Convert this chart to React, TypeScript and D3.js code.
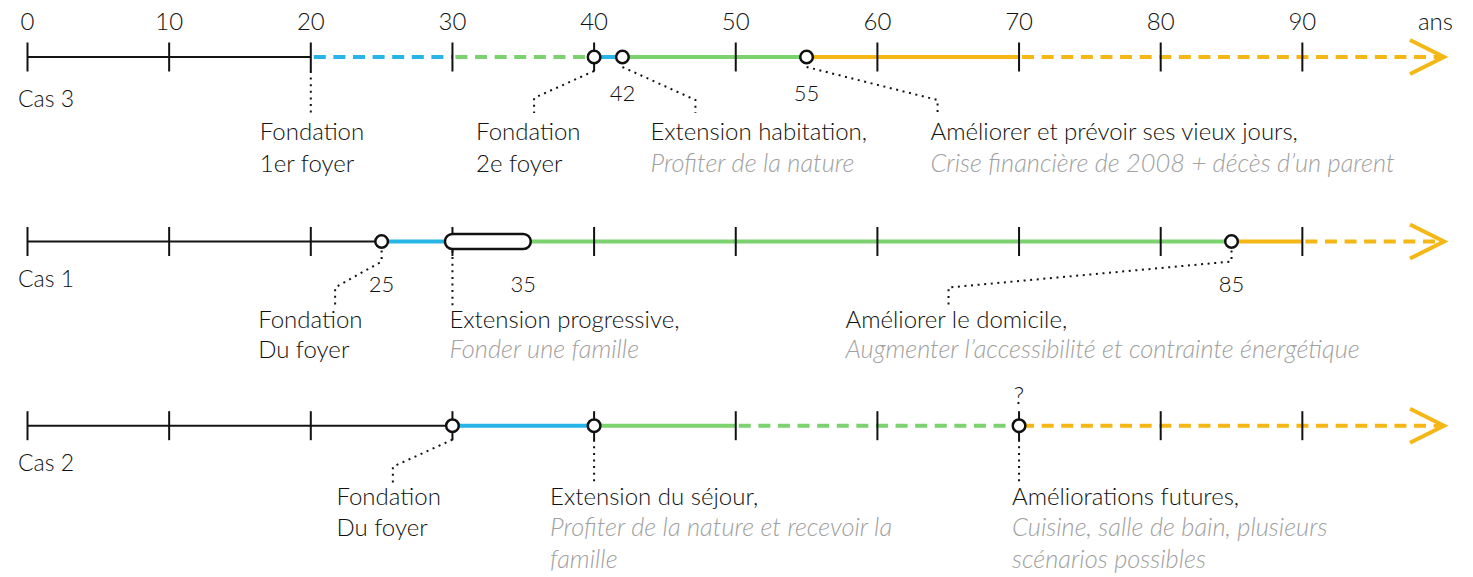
import React from "react";
import * as d3 from "d3";

// ---------- DATA ----------
const TICKS = [0, 10, 20, 30, 40, 50, 60, 70, 80, 90];
const TICK_LABELS = ["0", "10", "20", "30", "40", "50", "60", "70", "80", "90"];
const UNIT_LABEL = "ans";
const AGE_MAX = 100;

const CASE_NAMES = ["Cas 3", "Cas 1", "Cas 2"];

// phase: base | fondation | extension | amelioration
const SEGMENTS_CAS3 = [
  { from: 0, to: 20, phase: "base", dashed: false },
  { from: 20, to: 30, phase: "fondation", dashed: true },
  { from: 30, to: 40, phase: "extension", dashed: true },
  { from: 40, to: 42, phase: "fondation", dashed: false },
  { from: 42, to: 55, phase: "extension", dashed: false },
  { from: 55, to: 70, phase: "amelioration", dashed: false },
  { from: 70, to: 100, phase: "amelioration", dashed: true },
];
const SEGMENTS_CAS1 = [
  { from: 0, to: 25, phase: "base", dashed: false },
  { from: 25, to: 30, phase: "fondation", dashed: false },
  { from: 30, to: 85, phase: "extension", dashed: false },
  { from: 85, to: 90, phase: "amelioration", dashed: false },
  { from: 90, to: 100, phase: "amelioration", dashed: true },
];
const SEGMENTS_CAS2 = [
  { from: 0, to: 30, phase: "base", dashed: false },
  { from: 30, to: 40, phase: "fondation", dashed: false },
  { from: 40, to: 50, phase: "extension", dashed: false },
  { from: 50, to: 70, phase: "extension", dashed: true },
  { from: 70, to: 100, phase: "amelioration", dashed: true },
];

const CIRCLES_CAS3 = [40, 42, 55];
const CIRCLES_CAS1 = [25, 85];
const CIRCLES_CAS2 = [30, 40, 70];

const CAPSULES_CAS1 = [{ from: 30, to: 35 }];

const AGE_LABELS_CAS3 = [{ age: 42, text: "42" }, { age: 55, text: "55" }];
const AGE_LABELS_CAS1 = [
  { age: 25, text: "25" },
  { age: 35, text: "35" },
  { age: 85, text: "85" },
];
const QUESTION_CAS2 = [{ age: 70, text: "?" }];

const EVENTS_CAS3 = [
  { id: "c3a", age: 20, title: ["Fondation", "1er foyer"], note: [] },
  { id: "c3b", age: 40, title: ["Fondation", "2e foyer"], note: [] },
  { id: "c3c", age: 42, title: ["Extension habitation,"], note: ["Profiter de la nature"] },
  {
    id: "c3d",
    age: 55,
    title: ["Améliorer et prévoir ses vieux jours,"],
    note: ["Crise financière de 2008 + décès d’un parent"],
  },
];
const EVENTS_CAS1 = [
  { id: "c1a", age: 25, title: ["Fondation", "Du foyer"], note: [] },
  { id: "c1b", age: 30, title: ["Extension progressive,"], note: ["Fonder une famille"] },
  {
    id: "c1c",
    age: 85,
    title: ["Améliorer le domicile,"],
    note: ["Augmenter l’accessibilité et contrainte énergétique"],
  },
];
const EVENTS_CAS2 = [
  { id: "c2a", age: 30, title: ["Fondation", "Du foyer"], note: [] },
  {
    id: "c2b",
    age: 40,
    title: ["Extension du séjour,"],
    note: ["Profiter de la nature et recevoir la", "famille"],
  },
  {
    id: "c2c",
    age: 70,
    title: ["Améliorations futures,"],
    note: ["Cuisine, salle de bain, plusieurs", "scénarios possibles"],
  },
];

// ---------- LAYOUT / STYLE ----------
const W = 1473;
const H = 577;
const FONT = "Lato, 'Open Sans', sans-serif";
const COLORS: Record<string, string> = {
  base: "#141414",
  fondation: "#27b4e6",
  extension: "#7bd26f",
  amelioration: "#f4b715",
};
const GRAY = "#a0a0a0";
const INK = "#111111";
const TITLE_SIZE = 24;
const NOTE_SIZE = 25.4;

const ROWS = [
  { axisY: 57, caseDy: 50, ageDy: 44, textDy: 83, lineH: 31.5 },
  { axisY: 241.5, caseDy: 45.5, ageDy: 50.5, textDy: 86.5, lineH: 30 },
  { axisY: 425.7, caseDy: 45, ageDy: 0, textDy: 79, lineH: 31.5 },
];

// leader points relative to event (dx, dy from axis), label dx
const LEADERS: Record<string, { pts: [number, number][]; labelDx: number }> = {
  c3a: { pts: [[0, 14], [0, 60]], labelDx: -51 },
  c3b: { pts: [[0, 14], [-60, 41], [-60, 56]], labelDx: -118 },
  c3c: { pts: [[0, 10], [73, 43], [73, 56]], labelDx: 28 },
  c3d: { pts: [[0, 10], [131, 43], [131, 56]], labelDx: 124 },
  c1a: { pts: [[0, 9], [0, 20], [-46.5, 46], [-46.5, 64]], labelDx: -123.5 },
  c1b: { pts: [[0, 9], [0, 64]], labelDx: -3 },
  c1c: { pts: [[0, 9], [0, 20], [-283, 46], [-283, 64]], labelDx: -386 },
  c2a: { pts: [[0, 14], [-59.6, 41], [-59.6, 58]], labelDx: -116 },
  c2b: { pts: [[0, 14], [0, 58]], labelDx: -44 },
  c2c: { pts: [[0, 14], [0, 58]], labelDx: -7 },
};

const x = d3.scaleLinear().domain([0, AGE_MAX]).range([27.5, 1444]);

const CASES = [
  {
    name: CASE_NAMES[0],
    segments: SEGMENTS_CAS3,
    circles: CIRCLES_CAS3,
    capsules: [] as { from: number; to: number }[],
    ageLabels: AGE_LABELS_CAS3,
    above: [] as { age: number; text: string }[],
    events: EVENTS_CAS3,
  },
  {
    name: CASE_NAMES[1],
    segments: SEGMENTS_CAS1,
    circles: CIRCLES_CAS1,
    capsules: CAPSULES_CAS1,
    ageLabels: AGE_LABELS_CAS1,
    above: [] as { age: number; text: string }[],
    events: EVENTS_CAS1,
  },
  {
    name: CASE_NAMES[2],
    segments: SEGMENTS_CAS2,
    circles: CIRCLES_CAS2,
    capsules: [] as { from: number; to: number }[],
    ageLabels: [] as { age: number; text: string }[],
    above: QUESTION_CAS2,
    events: EVENTS_CAS2,
  },
];

const line = d3.line<[number, number]>();

function Row({ c, r }: { c: (typeof CASES)[number]; r: (typeof ROWS)[number] }) {
  const y = r.axisY;
  const tip = x(AGE_MAX);
  const last = c.segments[c.segments.length - 1];
  return (
    <g>
      {c.segments.map((s, i) => {
        const colored = s.phase !== "base";
        const x1 = x(s.from);
        const x2 = s.to === AGE_MAX ? tip - 2 : x(s.to);
        return (
          <line
            key={i}
            x1={x1}
            x2={x2}
            y1={y}
            y2={y}
            stroke={COLORS[s.phase]}
            strokeWidth={colored ? 4 : 2}
            strokeDasharray={s.dashed ? "12 7.6" : undefined}
            strokeDashoffset={s.dashed ? -3 : undefined}
          />
        );
      })}
      <path
        d={line([
          [tip - 34, y - 17],
          [tip, y],
          [tip - 34, y + 17],
        ]) || ""}
        fill="none"
        stroke={COLORS[last.phase]}
        strokeWidth={4}
        strokeLinejoin="miter"
      />
      {TICKS.map((t) => (
        <line key={t} x1={x(t)} x2={x(t)} y1={y - 14.5} y2={y + 14.5} stroke={INK} strokeWidth={2} />
      ))}
      {c.capsules.map((cp, i) => (
        <rect
          key={i}
          x={x(cp.from) - 7.5}
          y={y - 7.5}
          width={x(cp.to) - x(cp.from) + 15}
          height={15}
          rx={7.5}
          fill="#fff"
          stroke={INK}
          strokeWidth={2.5}
        />
      ))}
      {c.circles.map((a) => (
        <circle key={a} cx={x(a)} cy={y} r={6.3} fill="#fff" stroke={INK} strokeWidth={2.5} />
      ))}
      <text x={18} y={y + r.caseDy} fontSize={23} fontWeight={300} fill={INK} fontFamily={FONT}>
        {c.name}
      </text>
      {c.ageLabels.map((l) => (
        <text key={l.age} x={x(l.age)} y={y + r.ageDy} fontSize={22} fontWeight={300} fill={INK} textAnchor="middle" fontFamily={FONT}>
          {l.text}
        </text>
      ))}
      {c.above.map((l) => (
        <text key={l.age} x={x(l.age)} y={y - 22} fontSize={24} fontWeight={300} fill={INK} textAnchor="middle" fontFamily={FONT}>
          {l.text}
        </text>
      ))}
      {c.events.map((e) => {
        const L = LEADERS[e.id];
        const ex = x(e.age);
        const pts = L.pts.map(([dx, dy]) => [ex + dx, y + dy] as [number, number]);
        const lines = [
          ...e.title.map((t) => ({ t, note: false })),
          ...e.note.map((t) => ({ t, note: true })),
        ];
        return (
          <g key={e.id}>
            <path d={line(pts) || ""} fill="none" stroke={INK} strokeWidth={2} strokeDasharray="2 4.6" />
            {lines.map((ln, i) => (
              <text
                key={i}
                x={ex + L.labelDx}
                y={y + r.textDy + i * r.lineH}
                fontSize={ln.note ? NOTE_SIZE : TITLE_SIZE}
                fontWeight={300}
                fontFamily={FONT}
                fontStyle={ln.note ? "italic" : "normal"}
                fill={ln.note ? GRAY : INK}
              >
                {ln.t}
              </text>
            ))}
          </g>
        );
      })}
    </g>
  );
}

export default function App() {
  return (
    <svg
      width={W}
      height={H}
      viewBox={`0 0 ${W} ${H}`}
      style={{ position: "absolute", left: 0, top: 0, background: "#fff" }}
    >
      <rect width={W} height={H} fill="#fff" />
      {TICKS.map((t, i) => (
        <text key={t} x={x(t)} y={30} fontSize={24} fontWeight={300} fill={INK} textAnchor="middle" fontFamily={FONT}>
          {TICK_LABELS[i]}
        </text>
      ))}
      <text x={x(99.4)} y={30} fontSize={24} fontWeight={300} fill={INK} textAnchor="middle" fontFamily={FONT}>
        {UNIT_LABEL}
      </text>
      {CASES.map((c, i) => (
        <Row key={c.name} c={c} r={ROWS[i]} />
      ))}
    </svg>
  );
}
